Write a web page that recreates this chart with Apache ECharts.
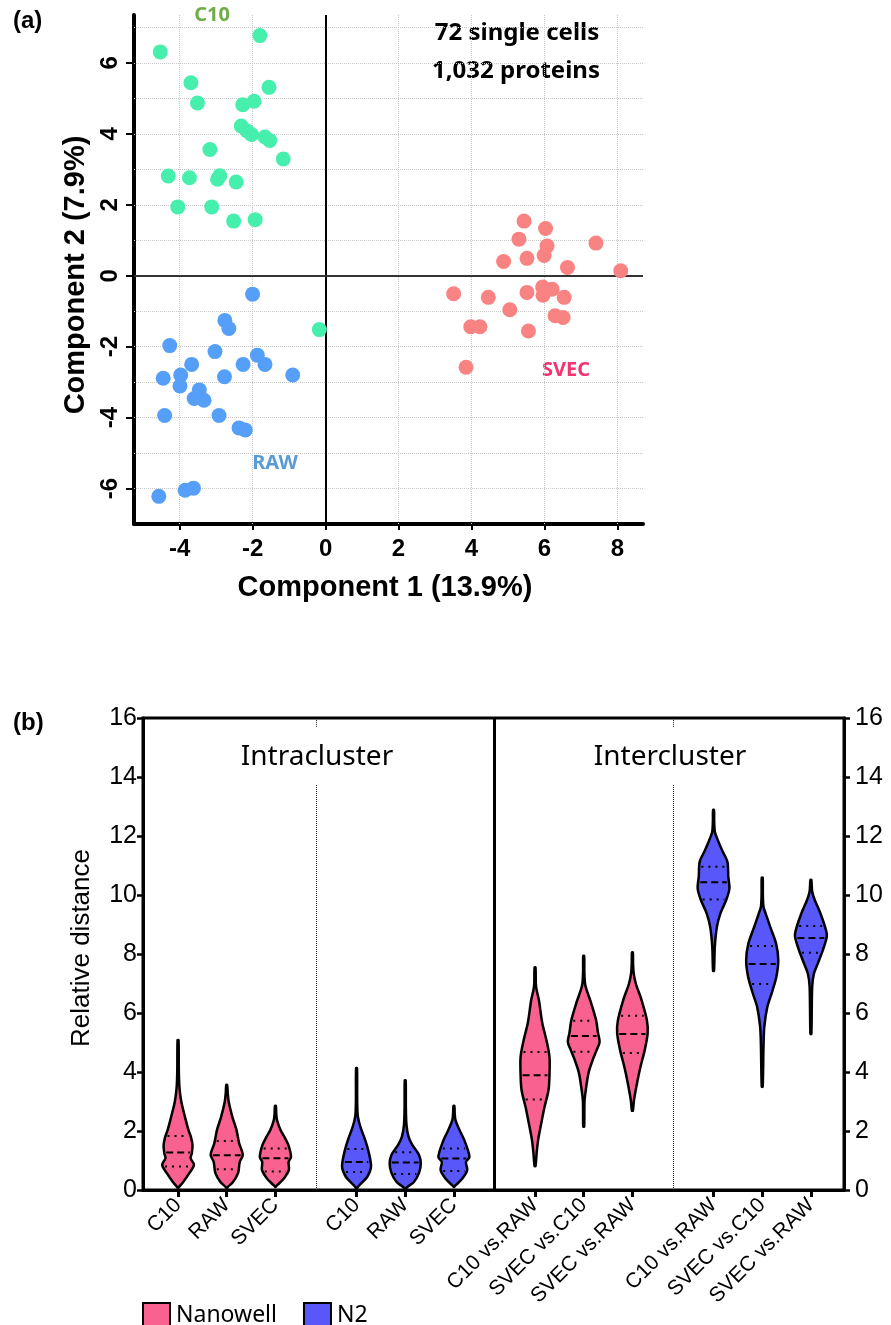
<!DOCTYPE html>
<html>
<head>
<meta charset="utf-8">
<script src="https://cdn.jsdelivr.net/npm/echarts@6/dist/echarts.min.js"></script>
<style>
  html, body { margin: 0; padding: 0; background: #fff; }
  #chart { width: 891px; height: 1325px; }
</style>
</head>
<body>
<div id="chart"></div>
<script>
// ---------- (a) PCA scores: [component 1, component 2] ----------
const c10Points = [
  [-4.53, 6.31], [-1.80, 6.77], [-3.69, 5.44], [-1.55, 5.31], [-3.51, 4.87], [-2.27, 4.82],
  [-1.96, 4.92], [-2.31, 4.22], [-2.15, 4.08], [-2.03, 3.98], [-1.66, 3.91], [-1.53, 3.81],
  [-3.17, 3.56], [-1.16, 3.29], [-4.31, 2.81], [-3.73, 2.76], [-2.90, 2.82], [-2.96, 2.72],
  [-2.45, 2.64], [-4.05, 1.94], [-3.12, 1.94], [-2.52, 1.54], [-1.93, 1.58], [-0.17, -1.52]
];
const rawPoints = [
  [-2.00, -0.52], [-2.76, -1.26], [-2.65, -1.49], [-4.27, -1.97], [-3.03, -2.14], [-1.87, -2.24],
  [-3.67, -2.50], [-2.26, -2.50], [-1.66, -2.50], [-4.45, -2.89], [-3.97, -2.80], [-2.77, -2.85],
  [-0.90, -2.80], [-3.99, -3.11], [-3.46, -3.22], [-3.60, -3.46], [-3.33, -3.51], [-4.41, -3.94],
  [-2.92, -3.94], [-2.37, -4.29], [-2.20, -4.35], [-3.85, -6.05], [-3.62, -5.99], [-4.57, -6.22]
];
const svecPoints = [
  [5.44, 1.54], [6.03, 1.33], [5.30, 1.03], [6.07, 0.84], [7.41, 0.92], [5.99, 0.57],
  [5.52, 0.49], [4.88, 0.40], [6.63, 0.23], [8.09, 0.14], [3.51, -0.51], [4.46, -0.61],
  [5.52, -0.47], [5.95, -0.32], [6.21, -0.38], [5.96, -0.55], [6.54, -0.61], [5.05, -0.96],
  [6.29, -1.13], [6.51, -1.18], [3.98, -1.44], [4.23, -1.44], [5.56, -1.56], [3.85, -2.58]
];
const pcaXTicks = [-4, -2, 0, 2, 4, 6, 8];
const pcaYTicks = [-6, -4, -2, 0, 2, 4, 6];
const pcaXGrid = [-4, -2, 2, 4, 6, 8];
const pcaYGrid = [-6, -5, -4, -3, -2, -1, 1, 2, 3, 4, 5, 6, 7];

// ---------- (b) relative distances ----------
const distanceLabels = [
  'C10', 'RAW', 'SVEC', 'C10', 'RAW', 'SVEC',
  'C10 vs.RAW', 'SVEC vs.C10', 'SVEC vs.RAW', 'C10 vs.RAW', 'SVEC vs.C10', 'SVEC vs.RAW'
];
const distanceTicks = [0, 2, 4, 6, 8, 10, 12, 14, 16];
const nanowellSlots = [0, 1, 2, 6, 7, 8];
const n2Slots = [3, 4, 5, 9, 10, 11];

const nanowellMedian = [1.27, 1.18, 1.08, 3.89, 5.22, 5.29];
const nanowellQ1 = [0.80, 0.70, 0.63, 3.07, 4.69, 4.64];
const nanowellQ3 = [1.83, 1.66, 1.41, 4.68, 5.74, 5.91];
const n2Median = [0.95, 0.93, 1.07, 10.43, 7.66, 8.54];
const n2Q1 = [0.61, 0.54, 0.64, 9.85, 6.98, 8.04];
const n2Q3 = [1.39, 1.28, 1.41, 10.96, 8.27, 8.95];

// kernel density outlines: [distance, relative density]
const nanowellDensity = [
  [[0.05, 0], [0.10, 0.06], [0.27, 0.32], [0.58, 0.71], [0.85, 0.99], [1.08, 0.78], [1.25, 0.86], [1.52, 0.90], [1.80, 0.80], [2.03, 0.65], [2.48, 0.43], [3.00, 0.20], [3.46, 0.09], [4.00, 0.05], [5.08, 0.03]],
  [[0.05, 0], [0.10, 0.06], [0.27, 0.39], [0.58, 0.71], [0.95, 0.81], [1.19, 1.00], [1.59, 0.77], [2.03, 0.61], [2.48, 0.35], [3.00, 0.12], [3.30, 0.06], [3.56, 0.03]],
  [[0.10, 0], [0.17, 0.13], [0.40, 0.54], [0.68, 0.84], [0.95, 0.82], [1.12, 0.97], [1.52, 0.81], [1.80, 0.56], [2.03, 0.32], [2.37, 0.10], [2.60, 0.05], [2.85, 0.03]],
  [[0.81, 0.03], [1.25, 0.10], [1.69, 0.19], [2.27, 0.39], [2.81, 0.59], [3.39, 0.84], [3.90, 0.90], [4.51, 0.90], [5.08, 0.71], [5.66, 0.45], [6.44, 0.24], [6.78, 0.10], [7.00, 0.05], [7.54, 0.03]],
  [[2.15, 0.03], [3.00, 0.05], [3.39, 0.13], [3.97, 0.30], [4.41, 0.56], [4.75, 0.81], [5.02, 0.99], [5.32, 0.89], [5.76, 0.77], [6.34, 0.46], [6.78, 0.18], [7.00, 0.08], [7.40, 0.04], [7.93, 0.03]],
  [[2.69, 0.03], [3.05, 0.10], [3.63, 0.29], [4.17, 0.50], [4.75, 0.77], [5.32, 0.95], [5.76, 0.90], [6.44, 0.57], [7.00, 0.21], [7.35, 0.08], [7.70, 0.04], [8.05, 0.03]]
];
const n2Density = [
  [[0.05, 0], [0.17, 0.19], [0.44, 0.66], [0.78, 0.90], [1.25, 0.77], [1.69, 0.54], [2.14, 0.24], [2.50, 0.08], [3.00, 0.04], [4.13, 0.03]],
  [[0.02, 0], [0.10, 0.13], [0.27, 0.54], [0.58, 0.86], [0.90, 0.97], [1.19, 0.86], [1.52, 0.45], [1.80, 0.21], [2.20, 0.08], [2.80, 0.04], [3.71, 0.03]],
  [[0.10, 0], [0.17, 0.13], [0.40, 0.54], [0.68, 0.83], [0.95, 0.75], [1.12, 0.97], [1.69, 0.65], [2.03, 0.35], [2.37, 0.10], [2.60, 0.05], [2.85, 0.03]],
  [[7.43, 0.03], [8.25, 0.08], [8.92, 0.21], [9.38, 0.43], [9.83, 0.79], [10.22, 0.99], [10.62, 0.92], [11.13, 0.86], [11.53, 0.52], [11.98, 0.18], [12.15, 0.08], [12.50, 0.04], [12.88, 0.03]],
  [[3.50, 0.03], [4.86, 0.08], [5.53, 0.13], [6.21, 0.32], [6.67, 0.59], [7.23, 0.88], [7.80, 1.00], [8.36, 0.86], [8.92, 0.50], [9.38, 0.21], [9.60, 0.08], [10.00, 0.04], [10.59, 0.03]],
  [[5.29, 0.03], [6.89, 0.08], [7.34, 0.19], [7.68, 0.43], [8.14, 0.75], [8.59, 0.99], [8.81, 0.94], [9.38, 0.59], [9.83, 0.24], [10.12, 0.08], [10.51, 0.03]]
];

// ---------- layout helpers ----------
const AXIS_FONT = '"Liberation Sans", Arial, sans-serif';
const TEXT_FONT = '"Noto Sans", "Open Sans", sans-serif';
const GROUP_SHIFT = 2 / 3;          // extra space between groups of three
const VIOLIN_HALF = 0.33;           // half-width of the widest violin, in slot units
const slotPos = i => i + Math.floor(i / 3) * GROUP_SHIFT;
const slotValues = distanceLabels.map((_, i) => slotPos(i));
const dividerAfter = g => slotPos(g * 3 + 2) + (1 + GROUP_SHIFT) / 2;

function densityAt(profile, v) {
  if (v <= profile[0][0]) return profile[0][1];
  for (let i = 1; i < profile.length; i++) {
    if (v <= profile[i][0]) {
      const [v0, d0] = profile[i - 1], [v1, d1] = profile[i];
      return d0 + (d1 - d0) * (v - v0) / (v1 - v0);
    }
  }
  return profile[profile.length - 1][1];
}

function violinSeries(name, color, slots, medians, q1, q3, profiles) {
  return {
    name, type: 'custom', xAxisIndex: 1, yAxisIndex: 1, z: 3,
    itemStyle: { color, borderColor: '#000', borderWidth: 2 },
    data: slots.map((s, k) => [slotPos(s), medians[k], k]),
    renderItem(params, api) {
      const k = api.value(2), x = api.value(0);
      const prof = profiles[k];
      const pts = [];
      prof.forEach(([v, d]) => pts.push(api.coord([x + d * VIOLIN_HALF, v])));
      for (let i = prof.length - 1; i >= 0; i--) pts.push(api.coord([x - prof[i][1] * VIOLIN_HALF, prof[i][0]]));
      const children = [{
        type: 'polygon', shape: { points: pts, smooth: 0.3 },
        style: { fill: color, stroke: '#000', lineWidth: 2.5, lineJoin: 'round' }
      }];
      const statLine = (v, dash) => {
        const d = densityAt(prof, v) * VIOLIN_HALF;
        const a = api.coord([x - d, v]), b = api.coord([x + d, v]);
        children.push({
          type: 'line', shape: { x1: a[0] + 2, y1: a[1], x2: b[0] - 2, y2: b[1] },
          style: { stroke: '#000', lineWidth: 2, lineDash: dash }
        });
      };
      statLine(medians[k], [7, 4]);
      statLine(q1[k], [2, 5]);
      statLine(q3[k], [2, 5]);
      return { type: 'group', children };
    }
  };
}

const chart = echarts.init(document.getElementById('chart'), null, { renderer: 'canvas' });

const gridLineStyle = { type: 'dotted', color: '#c8c8c8', width: 1 };
const dividerStyle = { type: 'dotted', color: '#222', width: 1 };
const dividerTop = 13.73;

chart.setOption({
  animation: false,
  backgroundColor: '#fff',
  grid: [
    { left: 134, top: 15, width: 509, height: 509 },
    { left: 143, top: 718, width: 701, height: 472, show: true, borderColor: '#000', borderWidth: 3 }
  ],
  xAxis: [
    {
      gridIndex: 0, type: 'value', min: -5.25, max: 8.7,
      axisLine: { show: true, onZero: false, lineStyle: { color: '#000', width: 4 } },
      axisTick: { show: true, customValues: pcaXTicks, length: 6, lineStyle: { color: '#000', width: 2 } },
      axisLabel: {
        customValues: pcaXTicks, margin: 13, color: '#000',
        fontFamily: AXIS_FONT, fontWeight: 'bold', fontSize: 24
      },
      splitLine: { show: false }
    },
    {
      gridIndex: 1, type: 'value', min: -0.72, max: 13.68,
      axisLine: { show: true, onZero: false, lineStyle: { color: '#000', width: 3 } },
      axisTick: { show: true, customValues: slotValues, length: 7, lineStyle: { color: '#000', width: 3 } },
      axisLabel: {
        customValues: slotValues, rotate: 45, margin: 12, color: '#000',
        fontFamily: AXIS_FONT, fontSize: 21,
        formatter: v => {
          const i = slotValues.findIndex(p => Math.abs(p - v) < 1e-6);
          return i >= 0 ? distanceLabels[i] : '';
        }
      },
      splitLine: { show: false }
    }
  ],
  yAxis: [
    {
      gridIndex: 0, type: 'value', min: -7, max: 7.35,
      axisLine: { show: true, onZero: false, lineStyle: { color: '#000', width: 4 } },
      axisTick: { show: true, customValues: pcaYTicks, length: 8, lineStyle: { color: '#000', width: 2 } },
      axisLabel: {
        customValues: pcaYTicks, rotate: 90, margin: 12, color: '#000',
        fontFamily: AXIS_FONT, fontWeight: 'bold', fontSize: 24
      },
      splitLine: { show: false }
    },
    {
      gridIndex: 1, type: 'value', min: 0, max: 16, interval: 2,
      axisLine: { show: true, onZero: false, lineStyle: { color: '#000', width: 3 } },
      axisTick: { show: true, length: 6, lineStyle: { color: '#000', width: 2.5 } },
      axisLabel: { margin: 6, color: '#000', fontFamily: AXIS_FONT, fontSize: 25 },
      splitLine: { show: false }
    },
    {
      gridIndex: 1, type: 'value', position: 'right', min: 0, max: 16, interval: 2,
      axisLine: { show: true, onZero: false, lineStyle: { color: '#000', width: 3 } },
      axisTick: { show: true, length: 6, lineStyle: { color: '#000', width: 2.5 } },
      axisLabel: { margin: 11, color: '#000', fontFamily: AXIS_FONT, fontSize: 25 },
      splitLine: { show: false }
    }
  ],
  legend: {
    data: ['Nanowell', 'N2'],
    left: 137, top: 1297, icon: 'rect', itemWidth: 27, itemHeight: 24, itemGap: 26,
    selectedMode: false,
    itemStyle: { borderColor: '#000', borderWidth: 2 },
    textStyle: { fontFamily: TEXT_FONT, fontSize: 23, color: '#000', padding: [0, 0, 0, 1] }
  },
  series: [
    // reference lines for the score plot
    {
      type: 'line', xAxisIndex: 0, yAxisIndex: 0, data: [], silent: true,
      markLine: {
        z: 1, silent: true, symbol: 'none', animation: false, label: { show: false },
        data: [
          ...pcaXGrid.map(v => ({ xAxis: v, lineStyle: gridLineStyle })),
          ...pcaYGrid.map(v => ({ yAxis: v, lineStyle: gridLineStyle })),
          { xAxis: 0, lineStyle: { type: 'solid', color: '#000', width: 2 } },
          { yAxis: 0, lineStyle: { type: 'solid', color: '#333', width: 2 } }
        ]
      }
    },
    {
      name: 'C10 cells', type: 'scatter', xAxisIndex: 0, yAxisIndex: 0, z: 3,
      symbolSize: 15, itemStyle: { color: '#47EFAD', opacity: 1 }, data: c10Points
    },
    {
      name: 'RAW cells', type: 'scatter', xAxisIndex: 0, yAxisIndex: 0, z: 3,
      symbolSize: 15, itemStyle: { color: '#569FF9', opacity: 1 }, data: rawPoints
    },
    {
      name: 'SVEC cells', type: 'scatter', xAxisIndex: 0, yAxisIndex: 0, z: 3,
      symbolSize: 15, itemStyle: { color: '#F98282', opacity: 1 }, data: svecPoints
    },
    // group dividers for the distance plot
    {
      type: 'line', xAxisIndex: 1, yAxisIndex: 1, data: [], silent: true,
      markLine: {
        z: 1, silent: true, symbol: 'none', animation: false, label: { show: false },
        data: [
          [{ coord: [dividerAfter(0), 0], lineStyle: dividerStyle }, { coord: [dividerAfter(0), dividerTop] }],
          [{ coord: [dividerAfter(0), 15.7], lineStyle: dividerStyle }, { coord: [dividerAfter(0), 16] }],
          [{ coord: [dividerAfter(2), 0], lineStyle: dividerStyle }, { coord: [dividerAfter(2), dividerTop] }],
          [{ coord: [dividerAfter(2), 15.7], lineStyle: dividerStyle }, { coord: [dividerAfter(2), 16] }],
          { xAxis: dividerAfter(1), lineStyle: { type: 'solid', color: '#000', width: 3 } }
        ]
      }
    },
    violinSeries('Nanowell', '#F96190', nanowellSlots, nanowellMedian, nanowellQ1, nanowellQ3, nanowellDensity),
    violinSeries('N2', '#5757FA', n2Slots, n2Median, n2Q1, n2Q3, n2Density)
  ],
  graphic: [
    { type: 'text', x: 13, y: 21, style: { text: '(a)', font: `bold 24px ${AXIS_FONT}`, fill: '#000', verticalAlign: 'middle' } },
    { type: 'text', x: 13, y: 723, style: { text: '(b)', font: `bold 24px ${AXIS_FONT}`, fill: '#000', verticalAlign: 'middle' } },
    { type: 'text', x: 385, y: 588, style: { text: 'Component 1 (13.9%)', font: `bold 29px ${AXIS_FONT}`, fill: '#000', align: 'center', verticalAlign: 'middle' } },
    { type: 'text', x: 76, y: 275, rotation: Math.PI / 2, style: { text: 'Component 2 (7.9%)', font: `bold 29px ${AXIS_FONT}`, fill: '#000', align: 'center', verticalAlign: 'middle' } },
    { type: 'text', x: 517, y: 33, style: { text: '72 single cells', font: `bold 24px ${TEXT_FONT}`, fill: '#000', align: 'center', verticalAlign: 'middle' } },
    { type: 'text', x: 516, y: 71, style: { text: '1,032 proteins', font: `bold 24px ${TEXT_FONT}`, fill: '#000', align: 'center', verticalAlign: 'middle' } },
    { type: 'text', x: 212, y: 15, style: { text: 'C10', font: `bold 20px ${TEXT_FONT}`, fill: '#70AD47', align: 'center', verticalAlign: 'middle' } },
    { type: 'text', x: 275, y: 463, style: { text: 'RAW', font: `bold 20px ${TEXT_FONT}`, fill: '#5B9BD5', align: 'center', verticalAlign: 'middle' } },
    { type: 'text', x: 566, y: 370, style: { text: 'SVEC', font: `bold 20px ${TEXT_FONT}`, fill: '#F5336E', align: 'center', verticalAlign: 'middle' } },
    { type: 'text', x: 317, y: 757, style: { text: 'Intracluster', font: `28px ${TEXT_FONT}`, fill: '#000', align: 'center', verticalAlign: 'middle' } },
    { type: 'text', x: 670, y: 757, style: { text: 'Intercluster', font: `28px ${TEXT_FONT}`, fill: '#000', align: 'center', verticalAlign: 'middle' } },
    { type: 'text', x: 82, y: 948, rotation: Math.PI / 2, style: { text: 'Relative distance', font: `26px ${AXIS_FONT}`, fill: '#000', align: 'center', verticalAlign: 'middle' } }
  ]
});
</script>
</body>
</html>
